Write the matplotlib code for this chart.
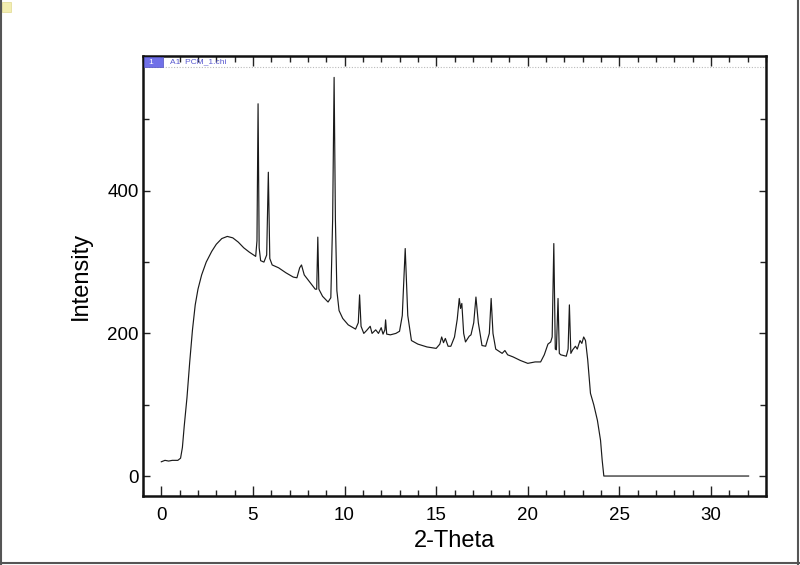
import matplotlib
matplotlib.use("Agg")
import matplotlib.pyplot as plt
from matplotlib.patches import Rectangle
from matplotlib.lines import Line2D

plt.rcParams['font.family'] = ['Liberation Sans', 'DejaVu Sans']

# 2-Theta positions and intensities
two_theta = [0.0, 0.2, 0.4, 0.6, 0.9, 1.05, 1.15, 1.25, 1.4, 1.55, 1.7, 1.85, 2.0, 2.2, 2.45,
             2.75, 3.0, 3.3, 3.6, 3.9, 4.2, 4.5, 4.8, 5.15, 5.22, 5.28, 5.34, 5.42, 5.6, 5.75,
             5.84, 5.92, 6.05, 6.4, 6.8, 7.2, 7.4, 7.55, 7.65, 7.8, 8.1, 8.4, 8.48, 8.54, 8.6,
             8.8, 9.1, 9.25, 9.35, 9.43, 9.5, 9.58, 9.7, 9.9, 10.2, 10.6, 10.75, 10.82, 10.9,
             11.05, 11.2, 11.4, 11.5, 11.7, 11.85, 12.0, 12.1, 12.2, 12.24, 12.3, 12.5, 12.8,
             13.0, 13.15, 13.31, 13.45, 13.65, 14.0, 14.5, 15.0, 15.2, 15.3, 15.4, 15.5, 15.65,
             15.8, 16.0, 16.15, 16.26, 16.33, 16.4, 16.5, 16.6, 16.8, 16.9, 17.05, 17.17, 17.3,
             17.5, 17.7, 17.9, 18.0, 18.1, 18.25, 18.6, 18.75, 18.9, 19.2, 19.6, 20.0, 20.4,
             20.7, 20.9, 21.1, 21.25, 21.33, 21.42, 21.5, 21.56, 21.65, 21.72, 21.8, 22.1, 22.2,
             22.27, 22.35, 22.45, 22.6, 22.7, 22.85, 22.95, 23.05, 23.15, 23.27, 23.42, 23.6,
             23.8, 23.97, 24.06, 24.15, 32.05]
intensity = [20, 22, 21, 22, 22, 25, 40, 70, 110, 160, 205, 240, 262, 282, 300,
             315, 325, 333, 336, 334, 328, 320, 314, 308, 330, 522, 320, 302, 300, 310,
             426, 305, 296, 292, 285, 279, 278, 292, 296, 282, 272, 262, 262, 335, 262,
             252, 244, 250, 360, 559, 360, 260, 232, 221, 212, 206, 215, 254, 210,
             200, 204, 210, 200, 205, 200, 208, 199, 205, 219, 199, 198, 200,
             203, 225, 319, 225, 190, 185, 181, 179, 185, 195, 187, 193, 182,
             182, 195, 220, 249, 235, 242, 200, 188, 196, 198, 215, 251, 215,
             183, 182, 200, 249, 200, 178, 172, 176, 170, 167, 162, 158, 160,
             160, 170, 185, 188, 195, 326, 178, 177, 249, 172, 170, 168, 178,
             240, 172, 177, 182, 178, 190, 186, 195, 190, 163, 116, 100,
             78, 50, 22, 0, 0]

x_major = [0, 5, 10, 15, 20, 25, 30]
y_major = [0, 200, 400]

fig = plt.figure(figsize=(8.0, 5.65), dpi=100)
ax = fig.add_axes([143/800, 1 - 496/565, 623/800, 440/565])
ax.plot(two_theta, intensity, color='#1a1a1a', lw=0.85)
ax.set_xlim(-1.0, 33.0)
ax.set_ylim(-28, 589)

ax.set_xticks(x_major)
ax.set_xticks(range(-1, 34), minor=True)
ax.set_yticks(y_major)
ax.set_yticks([100, 300, 500], minor=True)
ax.tick_params(axis='both', which='both', direction='in', top=True, right=True,
               labelsize=13.5, colors='#222222', labelcolor='black')
ax.tick_params(axis='x', which='major', length=7, width=1, pad=8)
ax.tick_params(axis='x', which='minor', length=4.5, width=1)
ax.tick_params(axis='y', which='major', length=5, width=1, pad=3)
ax.tick_params(axis='y', which='minor', length=4, width=1)
for s in ax.spines.values():
    s.set_linewidth(1.8)
    s.set_color('#111111')

ax.set_xlabel('2-Theta', fontsize=17, labelpad=4)
ax.set_ylabel('Intensity', fontsize=17, labelpad=11)

# header strip
ax.add_line(Line2D([0, 1], [1 - 11/440, 1 - 11/440], transform=ax.transAxes,
                   color='#bbbbbb', lw=0.8, ls=(0, (1, 1.5))))
fig.patches.append(Rectangle((144/800, 1 - 67/565), 19/800, 10/565, transform=fig.transFigure,
                             facecolor='#7070e8', edgecolor='#5050c0', lw=0.5))
fig.text(148/800, 1 - 62/565, '1', fontsize=6, color='white', va='center')
fig.text(170/800, 1 - 62/565, 'A1  PCM_1.chi', fontsize=6, color='#5a5ad0', va='center')

# window frame and icon
fig.add_artist(Line2D([1/800, 1/800], [0, 1], transform=fig.transFigure, color='#555555', lw=1.5))
fig.add_artist(Line2D([798/800, 798/800], [0, 1], transform=fig.transFigure, color='#555555', lw=1.5))
fig.add_artist(Line2D([0, 1], [1 - 563/565, 1 - 563/565], transform=fig.transFigure, color='#555555', lw=1.5))
fig.patches.append(Rectangle((2/800, 1 - 12/565), 9/800, 10/565, transform=fig.transFigure,
                             facecolor='#f3eeb0', edgecolor='#e0d890', lw=0.5))

fig.savefig('out.png', dpi=100)
